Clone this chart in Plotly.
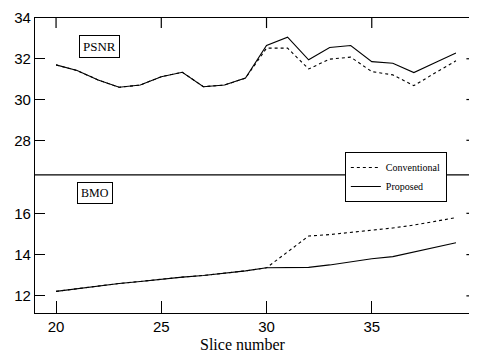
import plotly.graph_objects as go
from plotly.subplots import make_subplots

slices = list(range(20, 40))
psnr_conventional = [31.70, 31.42, 30.96, 30.60, 30.71, 31.12, 31.34, 30.63, 30.71, 31.05,
                     32.52, 32.52, 31.50, 31.98, 32.08, 31.37, 31.21, 30.68, 31.30, 31.90]
psnr_proposed = [31.70, 31.42, 30.96, 30.60, 30.71, 31.12, 31.34, 30.63, 30.71, 31.05,
                 32.65, 33.06, 31.95, 32.55, 32.65, 31.86, 31.78, 31.32, 31.80, 32.28]
bmo_conventional = [12.22, 12.35, 12.47, 12.60, 12.70, 12.82, 12.91, 12.99, 13.09, 13.21,
                    13.36, 14.13, 14.90, 14.97, 15.07, 15.19, 15.29, 15.43, 15.62, 15.79]
bmo_proposed = [12.22, 12.35, 12.47, 12.60, 12.70, 12.82, 12.91, 12.99, 13.09, 13.21,
                13.36, 13.36, 13.38, 13.50, 13.65, 13.80, 13.90, 14.12, 14.36, 14.57]
x_ticks = [20, 25, 30, 35]
psnr_ticks = [28, 30, 32, 34]
bmo_ticks = [12, 14, 16]

fig = make_subplots(rows=2, cols=1, shared_xaxes=False, vertical_spacing=0,
                    row_heights=[0.532, 0.468])

fig.add_trace(go.Scatter(x=slices, y=psnr_conventional, mode="lines", name="Conventional",
                         line=dict(color="black", width=1.1, dash="dot")), row=1, col=1)
fig.add_trace(go.Scatter(x=slices, y=psnr_proposed, mode="lines", name="Proposed",
                         line=dict(color="black", width=1.1)), row=1, col=1)
fig.add_trace(go.Scatter(x=slices, y=bmo_conventional, mode="lines", showlegend=False,
                         line=dict(color="black", width=1.1, dash="dot")), row=2, col=1)
fig.add_trace(go.Scatter(x=slices, y=bmo_proposed, mode="lines", showlegend=False,
                         line=dict(color="black", width=1.1)), row=2, col=1)

tickfont = dict(family="Liberation Sans, Arial, sans-serif", size=15, color="black")

fig.update_layout(
    xaxis=dict(range=[19, 40], tickvals=x_ticks, showgrid=False, zeroline=False,
               showline=True, linecolor="black", linewidth=1.2,
               side="top", ticks="", showticklabels=False),
    xaxis2=dict(range=[19, 40], tickvals=x_ticks, showgrid=False, zeroline=False,
                showline=True, linecolor="black", linewidth=1.2,
                ticks="inside", ticklen=12, tickcolor="black", tickwidth=1, tickfont=tickfont),
    yaxis=dict(range=[26.3, 34], tickvals=psnr_ticks, showgrid=False, zeroline=False,
               showline=True, linecolor="black", linewidth=1.2,
               ticks="inside", ticklen=10, tickcolor="black", tickwidth=1, tickfont=tickfont),
    yaxis2=dict(range=[11.17, 17.86], tickvals=bmo_ticks, showgrid=False, zeroline=False,
                showline=True, linecolor="black", linewidth=1.2,
                ticks="inside", ticklen=10, tickcolor="black", tickwidth=1, tickfont=tickfont),
)

tick_line = dict(color="black", width=1.2)
# top ticks of the upper panel, placed on the x scale
for t in x_ticks:
    fig.add_shape(type="line", xref="x", yref="y domain", x0=t, x1=t,
                  y0=1, y1=0.936, line=tick_line, layer="above")
# right-side ticks, placed on each y scale
for t in psnr_ticks[:-1]:
    fig.add_shape(type="line", xref="x domain", yref="y", y0=t, y1=t,
                  x0=0.998, x1=0.976, line=tick_line, layer="above")
for t in bmo_ticks:
    fig.add_shape(type="line", xref="x2 domain", yref="y2", y0=t, y1=t,
                  x0=0.998, x1=0.976, line=tick_line, layer="above")

# boundary between the panels
fig.add_shape(type="line", xref="paper", yref="paper", x0=0, x1=1, y0=0.468, y1=0.468,
              line=dict(color="black", width=1.2))

serif = "Liberation Serif, Times New Roman, serif"
fig.add_annotation(text="PSNR", xref="paper", yref="paper", x=0.0995, y=0.942,
                   showarrow=False, font=dict(family=serif, size=13, color="black"),
                   bordercolor="black", borderwidth=1, borderpad=3, bgcolor="white")
fig.add_annotation(text="BMO", xref="paper", yref="paper", x=0.096, y=0.408,
                   showarrow=False, font=dict(family=serif, size=12, color="black"),
                   bordercolor="black", borderwidth=1, borderpad=3, bgcolor="white")
fig.add_annotation(text="Slice number", xref="paper", yref="paper", x=0.47, y=-0.108,
                   yanchor="middle", showarrow=False,
                   font=dict(family=serif, size=16, color="black"))

fig.update_layout(
    width=469, height=347,
    margin=dict(l=27, r=0, t=10, b=42),
    paper_bgcolor="white", plot_bgcolor="white",
    showlegend=True,
    legend=dict(x=0.701, y=0.546, xanchor="left", yanchor="top",
                bgcolor="white", bordercolor="black", borderwidth=1,
                font=dict(family=serif, size=10, color="black"),
                tracegroupgap=0, itemwidth=30),
)

fig.write_html("out.html")
